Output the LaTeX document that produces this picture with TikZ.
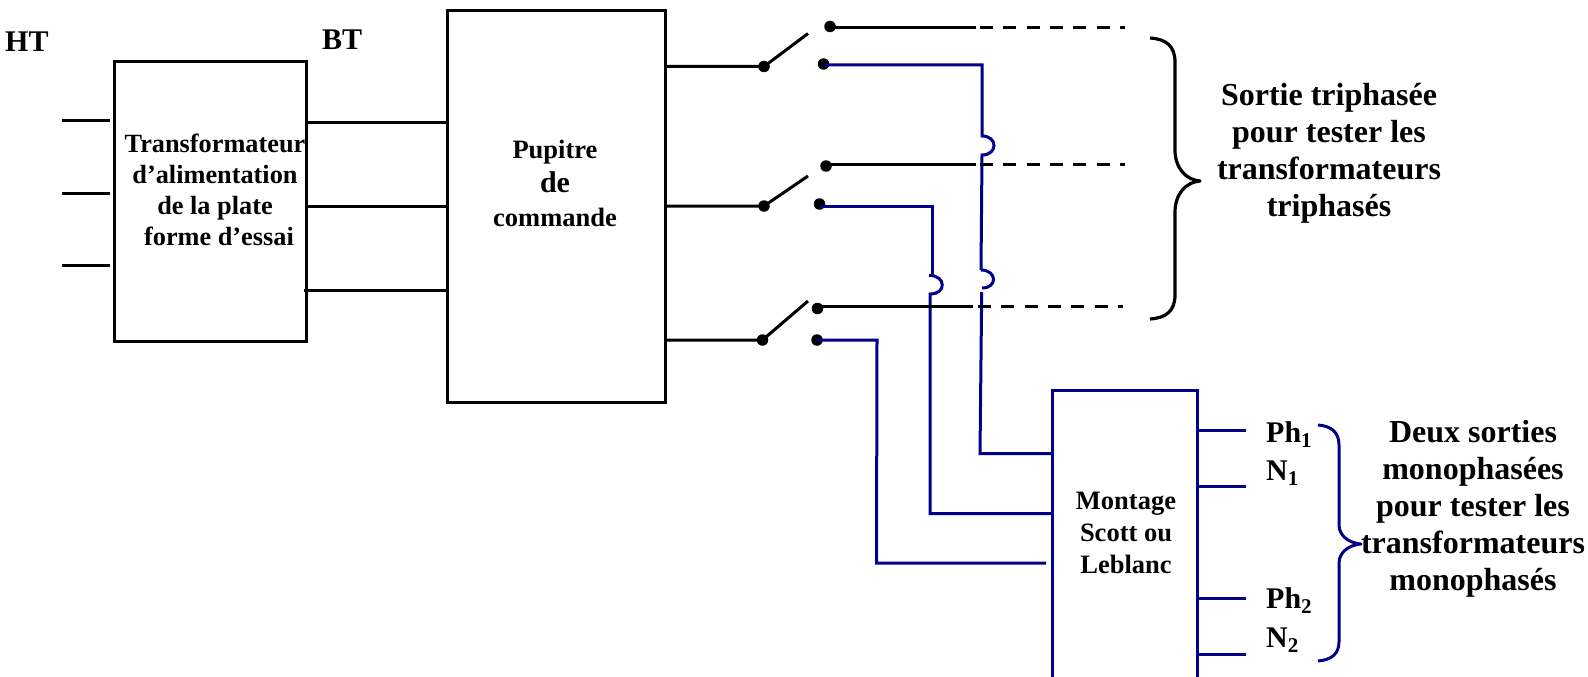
\documentclass[tikz,border=0pt]{standalone}
\usepackage{fontspec}
\setmainfont{Liberation Serif}
\definecolor{wireblue}{HTML}{000088}
\tikzset{
  base line/.style={line width=3pt,line cap=butt},
  blackwire/.style={base line,draw=black},
  bluewire/.style={base line,draw=wireblue,line join=miter},
  dashwire/.style={base line,draw=black,dash pattern=on 13pt off 10.3pt},
  boxshape/.style={draw=black,line width=3pt,inner sep=0pt,fill=none},
  contact/.style={circle,fill=black,draw=none,minimum size=11.5pt,inner sep=0pt},
  txt/.style={font=\bfseries,inner sep=0pt,align=center,text=black},
  lab/.style={font=\bfseries\fontsize{30}{30}\selectfont,inner sep=0pt,anchor=base west,text=black},
}
\begin{document}
\begin{tikzpicture}[x=1pt,y=-1pt]
\useasboundingbox (0,0) rectangle (1588,677);
% boxes
\node[boxshape,minimum width=192pt,minimum height=279pt] (tr) at (210,201.5) {};
\node[boxshape,minimum width=218pt,minimum height=391pt] (pu) at (556,206.5) {};
% named points
\foreach \n/\x/\y in {ht1a/62/120,ht1b/110/120,ht2a/62/193,ht2b/110/193,ht3a/62/265,ht3b/110/265,
 bt1a/305/122.7,bt1b/449/122.7,bt2a/305/206.5,bt2b/449/206.5,bt3a/304/290.5,bt3b/447/290.5,
 o1/665/66.5,o2/665/206,o3/665/340,
 b1/808/33.5,b2/808/176,b3/808/301,
 s1/975.5/28,dk1s/980/28,dk1e/1125/28,s2/976/164.3,dk2s/980/164.3,dk2e/1125/164.3,s3/973/306.7,dk3s/978/306.7,dk3e/1123/306.7,
 a1/982/65,a2/982/136,a3/982/155,a4/981/270,a5/982/288,a6/981.7/292,a7/980/453.5,a8/1052/453.5,
 c1/932/206.7,c2/932/275,c3/929/275.3,c4/930/294,c5/930/513.5,c6/1052/513.5,
 e1/877/340,e2/876.5/563,e3/1046/563,
 sb1/1052/677,sb2/1052/390,sb3/1197/390,sb4/1197/677,
 p1a/1197/430.7,p1b/1246/430.7,p2a/1197/486,p2b/1246/486,p3a/1197/598,p3b/1246/598,p4a/1197/654.7,p4b/1246/654.7}
 {\coordinate (\n) at (\x,\y);}
% contacts
\node[contact] (k1) at (764,66.5) {};
\node[contact] (k2) at (764,206) {};
\node[contact] (k3) at (762.5,340) {};
\node[contact] (u1) at (830,26.5) {};
\node[contact] (l1) at (823.5,64) {};
\node[contact] (u2) at (826,166) {};
\node[contact] (l2) at (819.5,204) {};
\node[contact] (u3) at (817.5,308.5) {};
\node[contact] (l3) at (817,340) {};
% HT / BT wires
\foreach \n in {1,2,3} {
  \draw[blackwire] (ht\n a) -- (ht\n b);
  \draw[blackwire] (bt\n a) -- (bt\n b);
}
% blue wires
\draw[bluewire] (l1.center |- a1) -- (a1) -- (a2) .. controls (998,136) and (998,155) .. (a3) -- (a4);
\draw[bluewire] (a4) .. controls (997,270) and (998,288) .. (a5);
\draw[bluewire] (a6) -- (a7) -- (a8);
\draw[bluewire] (l2.center |- c1) -- (c1) -- (c2);
\draw[bluewire] (c3) .. controls (946,275.3) and (947,294) .. (c4) -- (c5) -- (c6);
\draw[bluewire] (l3.center) -- (e1) -- (e2) -- (e3);
% black outputs
\draw[blackwire] (o1) -- (k1.center) -- (b1);
\draw[blackwire] (o2) -- (k2.center) -- (b2);
\draw[blackwire] (o3) -- (k3.center) -- (b3);
\draw[blackwire] (u1.center |- s1) -- (s1);
\draw[dashwire] (dk1s) -- (dk1e);
\draw[blackwire] (u2.center |- s2) -- (s2);
\draw[dashwire] (dk2s) -- (dk2e);
\draw[blackwire] (u3.center |- s3) -- (s3);
\draw[dashwire] (dk3s) -- (dk3e);
% Scott box (runs off the page)
\draw[draw=wireblue,line width=3pt,line join=miter] (sb1) -- (sb2) -- (sb3) -- (sb4);
\foreach \n in {1,2,3,4} \draw[bluewire] (p\n a) -- (p\n b);
% braces
\coordinate (bra) at (1150,38);
\coordinate (brb) at (1150,319);
\coordinate (brt) at (1200,181);
\draw[line width=3.2pt,black,line join=round] (bra) .. controls (1166,39) and (1175,46) .. (1175,62) -- (1175,150)
  .. controls (1175,168) and (1186,180) .. (brt) .. controls (1186,182) and (1175,194) .. (1175,212) -- (1175,295)
  .. controls (1175,311) and (1166,318) .. (brb);
\coordinate (bba) at (1318,425);
\coordinate (bbb) at (1318,661);
\coordinate (bbt) at (1361,544);
\draw[line width=3pt,wireblue,line join=round] (bba) .. controls (1331,426) and (1339,432) .. (1339,445) -- (1339,525)
  .. controls (1339,535) and (1348,543) .. (bbt) .. controls (1348,545) and (1339,553) .. (1339,563) -- (1339,642)
  .. controls (1339,654) and (1331,660) .. (bbb);
% text
\node[lab] (ht) at (5,52) {HT};
\node[lab] (bt) at (322,50) {BT};
\node[txt,font=\bfseries\fontsize{26.3}{31}\selectfont] (trt) at (215,189.5) {Transformateur\\d’alimentation\\de la plate\\\hskip 8pt forme d’essai};
\node[txt,font=\bfseries\fontsize{26.5}{34}\selectfont] (put) at (555,183) {Pupitre\\{\fontsize{30}{34}\selectfont de}\\commande};
\node[txt,font=\bfseries\fontsize{32}{37}\selectfont] (so) at (1329,153.5) {Sortie triphasée\\pour tester les\\transformateurs\\triphasés};
\node[txt,font=\bfseries\fontsize{26.5}{32}\selectfont] (mo) at (1126,532.5) {Montage\\Scott ou\\Leblanc};
\node[txt,font=\bfseries\fontsize{32}{37}\selectfont] (de) at (1473,509) {Deux sorties\\monophasées\\pour tester les\\transformateurs\\monophasés};
\node[lab] (ph1) at (1266,442) {Ph\textsubscript{1}};
\node[lab] (n1) at (1266,480) {N\textsubscript{1}};
\node[lab] (ph2) at (1266,608) {Ph\textsubscript{2}};
\node[lab] (n2) at (1266,647) {N\textsubscript{2}};
\end{tikzpicture}
\end{document}
